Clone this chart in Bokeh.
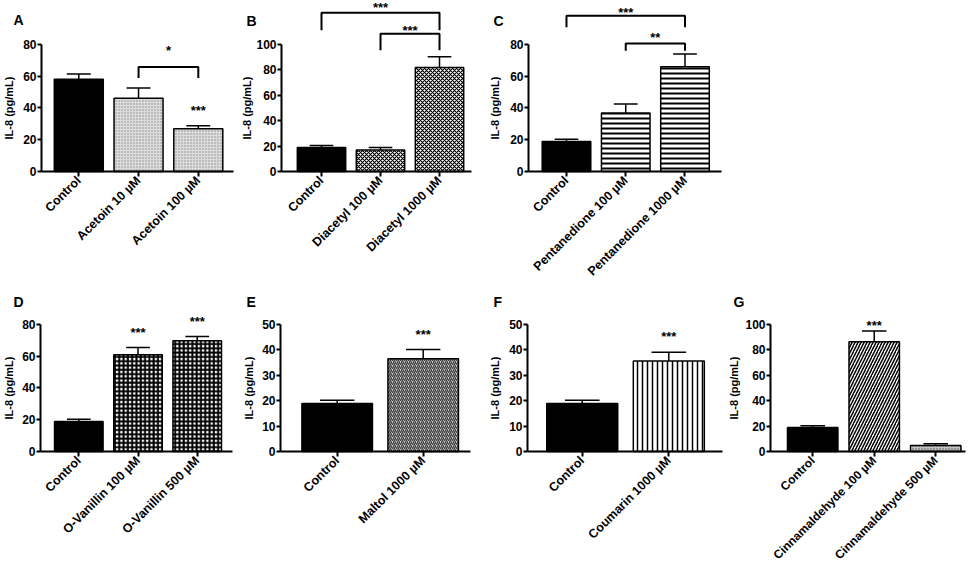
import math
from bokeh.plotting import figure
from bokeh.layouts import row, column
from bokeh.models import FixedTicker, Range1d
from bokeh.core.properties import value
from bokeh.embed import file_html
from bokeh.resources import INLINE

FONT = "Liberation Sans"
MU = "\u00b5M"

# ---------------- data ----------------
a_labels = ["Control", "Acetoin 10 " + MU, "Acetoin 100 " + MU]
a_mean = [58.0, 46.1, 26.8]
a_sem = [3.2, 6.3, 1.9]
a_styles = ["solid", "dots_light", "dots_light"]
a_stars = [(2, 39.0, "***")]
a_brackets = [(1, 2, 58.7, 65.6, "*", 76.9)]

b_labels = ["Control", "Diacetyl 100 " + MU, "Diacetyl 1000 " + MU]
b_mean = [18.8, 16.9, 81.6]
b_sem = [1.6, 1.9, 8.6]
b_styles = ["solid", "checker", "checker"]
b_stars = []
b_brackets = [(0, 2, 111.0, 124.7, "***", 130.0), (1, 2, 95.2, 108.2, "***", 111.7)]

c_labels = ["Control", "Pentanedione 100 " + MU, "Pentanedione 1000 " + MU]
c_mean = [18.9, 36.7, 65.8]
c_sem = [1.4, 5.7, 8.0]
c_styles = ["solid", "hlines", "hlines"]
c_stars = []
c_brackets = [(0, 2, 90.6, 97.9, "***", 101.0), (1, 2, 75.9, 80.5, "**", 85.3)]

d_labels = ["Control", "O-Vanillin 100 " + MU, "O-Vanillin 500 " + MU]
d_mean = [18.8, 60.8, 69.6]
d_sem = [1.5, 4.6, 2.7]
d_styles = ["solid", "grid", "grid"]
d_stars = [(1, 75.9, "***"), (2, 82.6, "***")]
d_brackets = []

e_labels = ["Control", "Maltol 1000 " + MU]
e_mean = [18.9, 36.4]
e_sem = [1.2, 3.7]
e_styles = ["solid", "maltol"]
e_stars = [(1, 46.7, "***")]
e_brackets = []

f_labels = ["Control", "Coumarin 1000 " + MU]
f_mean = [18.9, 35.5]
f_sem = [1.2, 3.5]
f_styles = ["solid", "vlines"]
f_stars = [(1, 45.6, "***")]
f_brackets = []

g_labels = ["Control", "Cinnamaldehyde 100 " + MU, "Cinnamaldehyde 500 " + MU]
g_mean = [18.8, 86.3, 4.7]
g_sem = [1.4, 8.4, 1.3]
g_styles = ["solid", "diag", "dots_dark"]
g_stars = [(1, 100.5, "***")]
g_brackets = []

y_title = "IL-8 (pg/mL)"

# ---------------- styles ----------------
STYLES = {
    "solid": dict(fill_color="black"),
    "dots_light": dict(fill_color="#dcdcdc", hatch_pattern="dot", hatch_color="#8a8a8a", hatch_scale=3),
    "checker": dict(fill_color="white", hatch_pattern="diagonal_cross", hatch_color="black", hatch_scale=4, hatch_weight=1.2),
    "hlines": dict(fill_color="white", hatch_pattern="horizontal_line", hatch_color="black", hatch_scale=5, hatch_weight=2),
    "grid": dict(fill_color="white", hatch_pattern="cross", hatch_color="black", hatch_scale=4.3, hatch_weight=2),
    "maltol": dict(fill_color="#d0d0d0", hatch_pattern="right_diagonal_line", hatch_color="#3a3a3a", hatch_scale=4, hatch_weight=1.3),
    "vlines": dict(fill_color="white", hatch_pattern="vertical_line", hatch_color="black", hatch_scale=5, hatch_weight=1.5),
    "diag": dict(fill_color="white", hatch_pattern="right_diagonal_line", hatch_color="black", hatch_scale=6, hatch_weight=1.5),
    "dots_dark": dict(fill_color="#c4c4c4", hatch_pattern="dot", hatch_color="#444444", hatch_scale=3),
}

PX_PER_AXIS = 127.3  # pixel length of each y axis (0 .. max tick)


def make_panel(geo, labels, mean, sem, styles, stars, brackets, letter, ymax, ystep,
               title_standoff, xlabel_size="12.5px"):
    # w, h: canvas size; fl, fr: y-axis / x-axis-end position in canvas px;
    # x0, x1: data extent of the x axis; zero_y: canvas y of the x axis
    w, h, fl, fr, x0, x1, zero_y, letter_x, letter_y = geo
    n = len(labels)
    xs = list(range(n))
    k = (fr - fl) / (x1 - x0)          # px per category step
    ppu = PX_PER_AXIS / ymax           # px per y unit
    xr = Range1d(x0 - fl / k, x1 + (w - fr) / k)
    yr = Range1d(-(h - zero_y) / ppu, zero_y / ppu)
    p = figure(width=w, height=h, x_range=xr, y_range=yr,
               output_backend="svg", toolbar_location=None, min_border=0)
    p.outline_line_color = None
    p.xgrid.visible = False
    p.ygrid.visible = False
    p.background_fill_color = "white"
    p.border_fill_color = "white"

    for ax in (p.xaxis[0], p.yaxis[0]):
        ax.axis_line_width = 2
        ax.axis_line_color = "black"
        ax.major_tick_line_width = 2
        ax.major_tick_line_color = "black"
        ax.minor_tick_line_color = None
        ax.major_tick_in = 0
        ax.major_label_text_font = FONT
        ax.major_label_text_font_style = "bold"
        ax.major_label_text_color = "black"

    xa = p.xaxis[0]
    xa.fixed_location = 0
    xa.ticker = FixedTicker(ticks=xs)
    xa.bounds = (x0, x1)
    xa.major_label_overrides = {i: lab for i, lab in enumerate(labels)}
    xa.major_label_orientation = math.pi / 4
    xa.major_label_text_font_size = xlabel_size
    xa.major_tick_out = 5
    xa.major_label_standoff = 2

    ya = p.yaxis[0]
    ya.fixed_location = x0
    ya.ticker = FixedTicker(ticks=list(range(0, ymax + 1, ystep)))
    ya.bounds = (0, ymax)
    ya.major_tick_out = 4
    ya.major_label_standoff = 1
    ya.major_label_text_font_size = "12px"
    ya.axis_label = y_title
    ya.axis_label_text_font = FONT
    ya.axis_label_text_font_style = "bold"
    ya.axis_label_text_font_size = "11px"
    ya.axis_label_text_color = "black"
    ya.axis_label_standoff = title_standoff

    for i in range(n):
        p.vbar(x=[xs[i]], top=[mean[i]], bottom=0, width=0.82,
               line_color="black", line_width=1.5, **STYLES[styles[i]])

    tops = [m + s for m, s in zip(mean, sem)]
    p.segment(x0=xs, y0=mean, x1=xs, y1=tops, line_color="black", line_width=1.5)
    p.segment(x0=[x - 0.2 for x in xs], y0=tops, x1=[x + 0.2 for x in xs], y1=tops,
              line_color="black", line_width=1.5)

    tx, ty, tt = [], [], []
    for (i, y, t) in stars:
        tx.append(xs[i]); ty.append(y); tt.append(t)
    for (i, j, leg, top, t, yt) in brackets:
        p.line(x=[xs[i], xs[i], xs[j], xs[j]], y=[leg, top, top, leg],
               line_color="black", line_width=2)
        tx.append((xs[i] + xs[j]) / 2); ty.append(yt); tt.append(t)
    if tt:
        p.text(x=tx, y=ty, text=tt, text_font=value(FONT), text_font_size="13px",
               text_font_style="bold", text_align="center", text_baseline="alphabetic",
               y_offset=1.5, text_color="black")

    # panel letter (top-left corner), converted from canvas pixels through the scales
    lx = xr.start + letter_x / k
    ly = (zero_y - letter_y) / ppu
    p.text(x=[lx], y=[ly], text=[letter], text_font=value(FONT), text_font_style="bold",
           text_font_size="14px", text_align="left", text_baseline="alphabetic", text_color="black")
    return p


# geometry: canvas w, h, y-axis x, x-axis end, x0, x1, x-axis y, letter x, letter baseline
TOP_H, BOT_H = 285, 280
pA = make_panel((240, TOP_H, 41, 233, -0.624, 2.589, 171, 13, 19.5),
                a_labels, a_mean, a_sem, a_styles, a_stars, a_brackets, "A", 80, 20, 5)
pB = make_panel((244, TOP_H, 41, 231, -0.678, 2.542, 171, 6, 20),
                b_labels, b_mean, b_sem, b_styles, b_stars, b_brackets, "B", 100, 20, 0)
pC = make_panel((256, TOP_H, 44, 237, -0.641, 2.616, 171, 9, 20),
                c_labels, c_mean, c_sem, c_styles, c_stars, c_brackets, "C", 80, 20, 6)
pD = make_panel((240, BOT_H, 40, 232, -0.647, 2.596, 166, 13, 16),
                d_labels, d_mean, d_sem, d_styles, d_stars, d_brackets, "D", 80, 20, 4)
pE = make_panel((244, BOT_H, 40, 230, -0.659, 1.55, 166, 6, 16),
                e_labels, e_mean, e_sem, e_styles, e_stars, e_brackets, "E", 50, 10, 4)
pF = make_panel((244, BOT_H, 43, 238, -0.632, 1.62, 166, 9, 16),
                f_labels, f_mean, f_sem, f_styles, f_stars, f_brackets, "F", 50, 10, 5)
pG = make_panel((240, BOT_H, 42, 237, -0.686, 2.484, 166, 5, 16),
                g_labels, g_mean, g_sem, g_styles, g_stars, g_brackets, "G", 100, 20, 2, "12px")

layout = column(row(pA, pB, pC), row(pD, pE, pF, pG))
open("out.html", "w").write(file_html(layout, INLINE, title="IL-8"))
